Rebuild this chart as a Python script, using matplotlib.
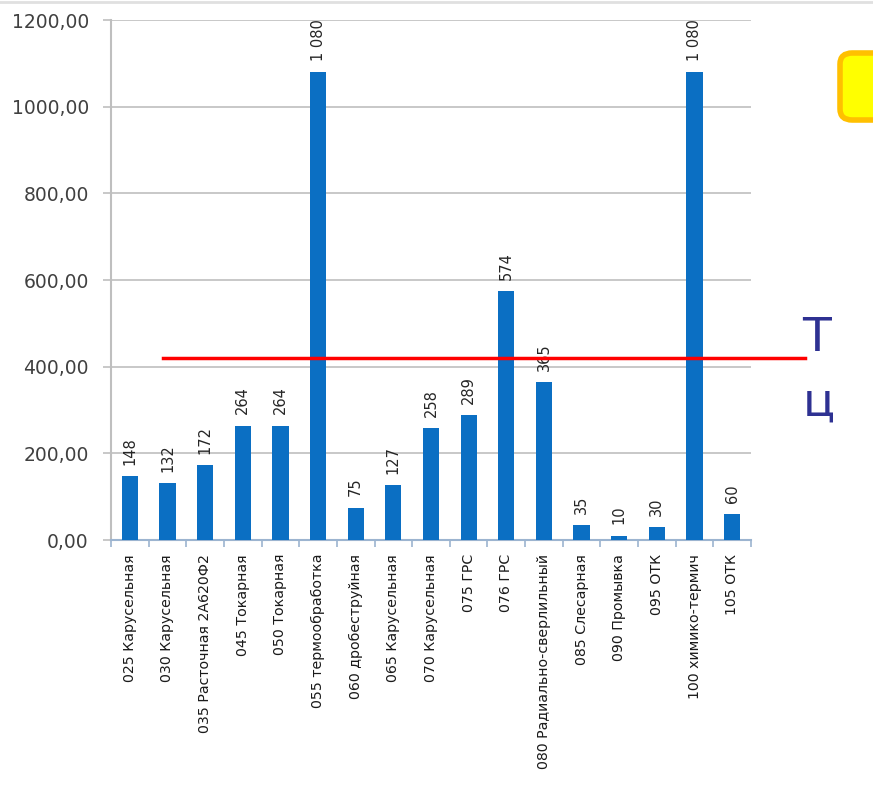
import matplotlib.pyplot as plt
from matplotlib.patches import FancyBboxPatch
import numpy as np

operations = [
    "025 Карусельная", "030 Карусельная", "035 Расточная 2А620Ф2",
    "045 Токарная", "050 Токарная", "055 термообработка",
    "060 дробеструйная", "065 Карусельная", "070 Карусельная",
    "075 ГРС", "076 ГРС", "080 Радиально-сверлильный",
    "085 Слесарная", "090 Промывка", "095 ОТК",
    "100 химико-термич", "105 ОТК",
]
hours = [148, 132, 172, 264, 264, 1080, 75, 127, 258, 289, 574, 365,
         35, 10, 30, 1080, 60]
takt = 420
yticks = [0, 200, 400, 600, 800, 1000, 1200]

narrow = ['DejaVu Sans Condensed', 'Liberation Sans Narrow', 'DejaVu Sans']
plt.rcParams['font.family'] = narrow

fig = plt.figure(figsize=(8.73, 7.94), dpi=100)
ax = fig.add_axes([111 / 873, 254 / 794, 640 / 873, 520 / 794])

x = np.arange(len(hours))
bars = ax.bar(x, hours, width=0.43, color='#0B6FC3', zorder=3)

for xi, v in zip(x, hours):
    txt = f"{v:,}".replace(",", " ")
    ax.text(xi, v + 26, txt, rotation=90, ha='center', va='bottom',
            fontsize=10.5, color='#262626')

ax.set_xlim(-0.5, len(hours) - 0.5)
ax.set_ylim(0, 1200)
ax.set_yticks(yticks)
ax.set_yticklabels([f"{t},00" for t in yticks], fontsize=13.5, color='#404040',
                   family='DejaVu Sans')
ax.grid(axis='y', color='#BFBFBF', linewidth=1.2, zorder=0)

ax.set_xticks(x)
ax.set_xticklabels(operations, rotation=90, fontsize=10.2, color='#1a1a1a')
ax.set_xticks(np.arange(len(hours) + 1) - 0.5, minor=True)
ax.tick_params(axis='x', which='major', length=0, pad=10)
ax.tick_params(axis='x', which='minor', length=5, color='#9CB4D0', width=1.2)
ax.tick_params(axis='y', length=6, color='#BFBFBF', width=1.2, pad=10)

for side in ['top', 'right']:
    ax.spines[side].set_visible(False)
ax.spines['left'].set_color('#BFBFBF')
ax.spines['left'].set_linewidth(1.5)
ax.spines['bottom'].set_color('#9CB4D0')
ax.spines['bottom'].set_linewidth(1.5)

# takt time line, runs past the plot area
ax.plot([0.88, 17.93], [takt, takt], color='#FF0000', linewidth=2.5,
        clip_on=False, zorder=4)

fig.text(802 / 873, 1 - 339 / 794, "Т", fontsize=34, color='#2E3192',
         ha='left', va='center', family='DejaVu Sans')
fig.text(803 / 873, 1 - 403 / 794, "ц", fontsize=34, color='#2E3192',
         ha='left', va='center', family='DejaVu Sans')

# yellow note box at top right
box = FancyBboxPatch((840 / 873, 1 - 120 / 794), 60 / 873, 67 / 794,
                     boxstyle="round,pad=0,rounding_size=0.014",
                     transform=fig.transFigure, facecolor='#FFFF00',
                     edgecolor='#FFC000', linewidth=4, clip_on=False)
fig.patches.append(box)

# thin rule along the top edge
fig.add_artist(plt.Line2D([0, 1], [1 - 2 / 794, 1 - 2 / 794],
                          transform=fig.transFigure, color='#E0E0E0',
                          linewidth=2))

fig.savefig('out.png', dpi=100)
